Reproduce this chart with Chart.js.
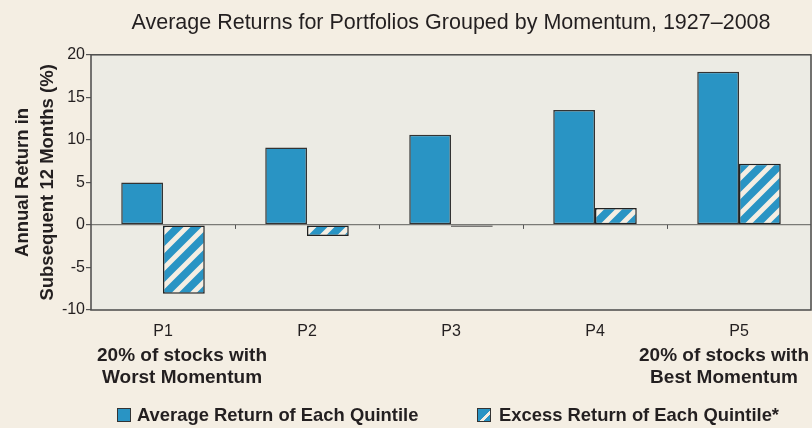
<!DOCTYPE html>
<html>
<head>
<meta charset="utf-8">
<script src="https://cdn.jsdelivr.net/npm/chart.js@4.4.1/dist/chart.umd.min.js"></script>
<style>
  html, body { margin: 0; padding: 0; background: #f4eee3; }
  #wrap { position: relative; width: 812px; height: 428px; overflow: hidden; }
  canvas { position: absolute; left: 0; top: 0; }
  .note, .legend span { position: absolute; font-family: "Liberation Sans", Arial, sans-serif;
    font-weight: bold; color: #231f20; text-align: center; white-space: nowrap; }
  .note { font-size: 19px; line-height: 22px; }
  .legend span { font-size: 18.4px; line-height: 22px; }
  .sw { position: absolute; width: 12px; height: 12px; border: 1px solid #333; background: #2994c4; }
  .sw.hatch { background: linear-gradient(135deg, #2994c4 0 58%, #f4eee3 58% 74%, #2994c4 74%); }
</style>
</head>
<body>
<div id="wrap">
  <canvas id="momentumChart" width="812" height="428"></canvas>
  <div class="note" style="left:96px;top:344px;width:172px">20% of stocks with<br>Worst Momentum</div>
  <div class="note" style="left:638px;top:344px;width:172px">20% of stocks with<br>Best Momentum</div>
  <div class="legend">
    <div class="sw" style="left:117px;top:408px"></div>
    <span style="left:137px;top:404px">Average Return of Each Quintile</span>
    <div class="sw hatch" style="left:477px;top:408px"></div>
    <span style="left:499px;top:404px">Excess Return of Each Quintile*</span>
  </div>
</div>
<script>
// quintile portfolios, 1927-2008
const quintiles = ['P1', 'P2', 'P3', 'P4', 'P5'];
const avgReturn = [5.0, 9.1, 10.6, 13.5, 18.0];
const excessReturn = [-8.1, -1.3, -0.2, 2.0, 7.2];
const yTicks = [-10, -5, 0, 5, 10, 15, 20];

const BLUE = '#2994c4';
const LIGHT = '#f4eee3';
const INK = '#231f20';
const FONT = '"Liberation Sans", Arial, sans-serif';

// diagonal stripes for the excess return bars
function makeHatch() {
  const s = 18;
  const c = document.createElement('canvas');
  c.width = s; c.height = s;
  const g = c.getContext('2d');
  g.fillStyle = BLUE;
  g.fillRect(0, 0, s, s);
  g.strokeStyle = LIGHT;
  g.lineWidth = 5;
  g.beginPath();
  // lines run past the tile so the butt caps don't leave seams
  for (let k = -1; k <= 1; k++) {
    g.moveTo(k * s - s, 2 * s);
    g.lineTo(k * s + 2 * s, -s);
  }
  g.stroke();
  return g.createPattern(c, 'repeat');
}

const plotFrame = {
  id: 'plotFrame',
  beforeDraw(chart) {
    const { ctx, chartArea: a } = chart;
    ctx.save();
    ctx.fillStyle = '#ecebe4';
    ctx.fillRect(a.left, a.top, a.right - a.left, a.bottom - a.top);
    ctx.restore();
  },
  afterDatasetsDraw(chart) {
    const { ctx, chartArea: a, scales } = chart;
    ctx.save();
    // small category separators sitting on the zero line
    const y0 = scales.y.getPixelForValue(0);
    ctx.strokeStyle = '#555';
    ctx.lineWidth = 1;
    ctx.beginPath();
    for (let i = 1; i < quintiles.length; i++) {
      const x = Math.round((scales.x.getPixelForValue(i - 1) + scales.x.getPixelForValue(i)) / 2) + 0.5;
      ctx.moveTo(x, y0);
      ctx.lineTo(x, y0 + 4);
    }
    ctx.stroke();
    ctx.strokeStyle = '#4a4a4a';
    ctx.lineWidth = 1.5;
    ctx.strokeRect(a.left, a.top, a.right - a.left, a.bottom - a.top);
    ctx.restore();
  }
};

const ctx = document.getElementById('momentumChart').getContext('2d');
new Chart(ctx, {
  type: 'bar',
  data: {
    labels: quintiles,
    datasets: [
      { label: 'Average Return of Each Quintile', data: avgReturn, backgroundColor: BLUE,
        borderColor: '#333', borderWidth: 1.5, borderSkipped: false },
      { label: 'Excess Return of Each Quintile*', data: excessReturn, backgroundColor: makeHatch(),
        borderColor: '#222', borderWidth: 1.5, borderSkipped: false }
    ]
  },
  options: {
    responsive: false,
    animation: false,
    layout: { padding: { left: 0, right: 1, top: 0, bottom: 0 } },
    datasets: { bar: { categoryPercentage: 0.58, barPercentage: 1 } },
    plugins: {
      legend: { display: false },
      tooltip: { enabled: false },
      title: {
        display: true,
        fullSize: false,
        text: 'Average Returns for Portfolios Grouped by Momentum, 1927\u20132008',
        color: INK,
        font: { family: FONT, size: 21.5, weight: 'normal', lineHeight: 1.2 },
        padding: { top: 10, bottom: 19 }
      }
    },
    scales: {
      x: {
        grid: { display: false },
        border: { display: false },
        ticks: { color: INK, font: { family: FONT, size: 16 }, padding: 4 },
        afterFit: s => { s.height = 118; }
      },
      y: {
        min: -10, max: 20,
        afterBuildTicks: s => { s.ticks = yTicks.map(v => ({ value: v })); },
        grid: {
          color: c => c.tick && c.tick.value === 0 ? '#7a7a76' : 'rgba(0,0,0,0)',
          lineWidth: 1.2,
          tickColor: '#555',
          tickLength: 5
        },
        border: { display: false },
        ticks: { color: INK, font: { family: FONT, size: 16 }, padding: 1 },
        title: {
          display: true,
          text: ['Annual Return in', 'Subsequent 12 Months (%)'],
          color: INK,
          font: { family: FONT, size: 18.5, weight: 'bold', lineHeight: 1.35 },
          padding: { top: 10.5, bottom: 0 }
        },
        afterFit: s => { s.width = 91; }
      }
    }
  },
  plugins: [plotFrame]
});
</script>
</body>
</html>
